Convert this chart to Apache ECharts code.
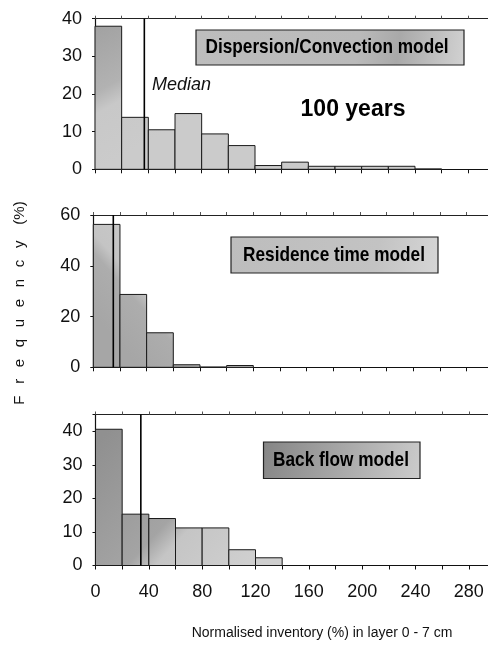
<!DOCTYPE html>
<html><head><meta charset="utf-8">
<script src="https://cdn.jsdelivr.net/npm/echarts@6/dist/echarts.min.js"></script>
<style>html,body{margin:0;padding:0;background:#fff}#c{width:488px;height:650px}</style>
</head><body><div id="c"></div>
<script>
// ---- data ----
const binWidth = 20;
const binStarts = [0, 20, 40, 60, 80, 100, 120, 140, 160, 180, 200, 220, 240];
const dispersionFreq = [38, 13.8, 10.5, 14.8, 9.4, 6.3, 1.0, 1.9, 0.8, 0.8, 0.8, 0.8, 0.1];
const residenceFreq = [56.3, 28.7, 13.6, 1.0, 0.1, 0.7];
const backflowFreq = [40.6, 15.3, 14.0, 11.2, 11.2, 4.7, 2.3];
const medians = [37, 15, 34];
const panelNames = ['Dispersion/Convection model', 'Residence time model', 'Back flow model'];
const yMaxes = [40, 60, 45];
const yIntervals = [10, 20, 10];
const xLabelStep = 40;
const xLabelMax = 280;
const xAxisTitle = 'Normalised inventory (%) in layer 0 - 7 cm';
const yAxisTitle = 'F\u2002 r\u2002 e\u2002 q\u2002 u\u2002 e\u2002 n\u2002 c\u2002 y\u2002  (%)';
const periodLabel = '100 years';
const medianLabel = 'Median';

// ---- layout ----
const pxPerUnit = 400 / 300;
const grids = [
  {left: 95, top: 18.7, right: 0, height: 150.6},
  {left: 93.3, top: 215, right: 0, height: 152.3},
  {left: 95.5, top: 414.5, right: 0, height: 151}
];
const freqs = [dispersionFreq, residenceFreq, backflowFreq];

function gradFor(i, cs) {
  const G = echarts.graphic.LinearGradient;
  if (i === 0) return new G(cs.x, cs.y + 10, cs.x + 60, cs.y + 120,
    [{offset: 0, color: '#a2a2a2'}, {offset: 0.45, color: '#b2b2b2'}, {offset: 0.6, color: '#c8c8c8'}, {offset: 1, color: '#cbcbcb'}], true);
  if (i === 1) return new G(cs.x + 90, cs.y + 40, cs.x + 10, cs.y + 110,
    [{offset: 0, color: '#cbcbcb'}, {offset: 0.5, color: '#c4c4c4'}, {offset: 0.62, color: '#adadad'}, {offset: 1, color: '#a6a6a6'}], true);
  return new G(cs.x, cs.y + 30, cs.x + 140, cs.y + 160,
    [{offset: 0, color: '#909090'}, {offset: 0.55, color: '#a4a4a4'}, {offset: 0.66, color: '#c5c5c5'}, {offset: 1, color: '#cfcfcf'}], true);
}

const series = [];
const xAxes = [], yAxes = [];
grids.forEach((g, i) => {
  const xMax = (488 - g.left) / pxPerUnit;
  xAxes.push({
    gridIndex: i, type: 'value', min: 0, max: xMax, interval: binWidth, position: 'bottom',
    axisLine: {lineStyle: {color: '#111', width: 1.2}},
    axisTick: {length: 4, lineStyle: {color: '#111'}},
    splitLine: {show: false},
    axisLabel: {
      show: i === 2, fontSize: 18, color: '#111', margin: 18, fontFamily: 'Liberation Sans, Arial',
      showMaxLabel: false,
      formatter: v => (v % xLabelStep === 0 && v <= xLabelMax) ? String(v) : ''
    }
  });
  xAxes.push({
    gridIndex: i, type: 'value', min: 0, max: xMax, interval: binWidth, position: 'top',
    axisLine: {lineStyle: {color: '#222', width: 1.2}},
    axisTick: {length: 3, lineStyle: {color: '#555'}},
    splitLine: {show: false}, axisLabel: {show: false}
  });
  yAxes.push({
    gridIndex: i, type: 'value', min: 0, max: yMaxes[i], interval: yIntervals[i],
    axisLine: {show: true, lineStyle: {color: '#111', width: 1.2}},
    axisTick: {show: true, length: 3, lineStyle: {color: '#111'}},
    splitLine: {show: false},
    axisLabel: {fontSize: 18, color: '#111', margin: 13, fontFamily: 'Liberation Sans, Arial',
      formatter: v => (v % yIntervals[i] === 0) ? String(v) : ''}
  });
  const data = freqs[i].map((f, k) => [binStarts[k], binStarts[k] + binWidth, f]);
  series.push({
    type: 'custom', xAxisIndex: i * 2, yAxisIndex: i, data: data, silent: true,
    renderItem: (params, api) => {
      const p0 = api.coord([api.value(0), api.value(2)]);
      const p1 = api.coord([api.value(1), 0]);
      return {type: 'rect', shape: {x: p0[0], y: p0[1], width: p1[0] - p0[0], height: p1[1] - p0[1]},
        style: {fill: gradFor(i, params.coordSys), stroke: '#1a1a1a', lineWidth: 1}};
    }
  });
  series.push({
    type: 'line', xAxisIndex: i * 2, yAxisIndex: i, symbol: 'none', silent: true,
    data: [[medians[i], 0], [medians[i], yMaxes[i]]],
    lineStyle: {color: '#000', width: 1.6}, z: 5
  });
});

function box(cx, cy, x, y, w, h, text, stops) {
  return {
    type: 'group', children: [
      {type: 'rect', shape: {x: x, y: y, width: w, height: h},
        style: {fill: new echarts.graphic.LinearGradient(0, 0, 1, 1, stops), stroke: '#222', lineWidth: 1.2}},
      {type: 'text', x: cx, y: cy, scaleX: 0.82,
        style: {text: text, fill: '#000', font: 'bold 21px "Liberation Sans", Arial', textAlign: 'center', textVerticalAlign: 'middle'}}
    ]
  };
}

const option = {
  animation: false,
  grid: grids,
  xAxis: xAxes,
  yAxis: yAxes,
  series: series,
  graphic: [
    box(327, 47, 196, 30, 268, 35, panelNames[0],
      [{offset: 0, color: '#bdbdbd'}, {offset: 0.6, color: '#bababa'}, {offset: 0.75, color: '#a9a9a9'}, {offset: 1, color: '#d2d2d2'}]),
    box(334, 255, 231, 237, 207, 36, panelNames[1],
      [{offset: 0, color: '#bdbdbd'}, {offset: 0.7, color: '#c3c3c3'}, {offset: 1, color: '#d6d6d6'}]),
    box(341, 460, 263.5, 442, 156.5, 36.5, panelNames[2],
      [{offset: 0, color: '#858585'}, {offset: 0.5, color: '#a8a8a8'}, {offset: 1, color: '#cccccc'}]),
    {type: 'text', x: 152, y: 85, style: {text: medianLabel, fill: '#111', font: 'italic 18px "Liberation Sans", Arial', textAlign: 'left', textVerticalAlign: 'middle'}},
    {type: 'text', x: 353, y: 110, style: {text: periodLabel, fill: '#000', font: 'bold 23px "Liberation Sans", Arial', textAlign: 'center', textVerticalAlign: 'middle'}},
    {type: 'text', x: 322, y: 633, style: {text: xAxisTitle, fill: '#111', font: '14px "Liberation Sans", Arial', textAlign: 'center', textVerticalAlign: 'middle'}},
    {type: 'text', x: 20, y: 303, rotation: Math.PI / 2, style: {text: yAxisTitle, fill: '#111', font: '15px "Liberation Sans", Arial', textAlign: 'center', textVerticalAlign: 'middle'}}
  ]
};
echarts.init(document.getElementById('c'), null, {renderer: 'canvas'}).setOption(option);
</script>
</body></html>
